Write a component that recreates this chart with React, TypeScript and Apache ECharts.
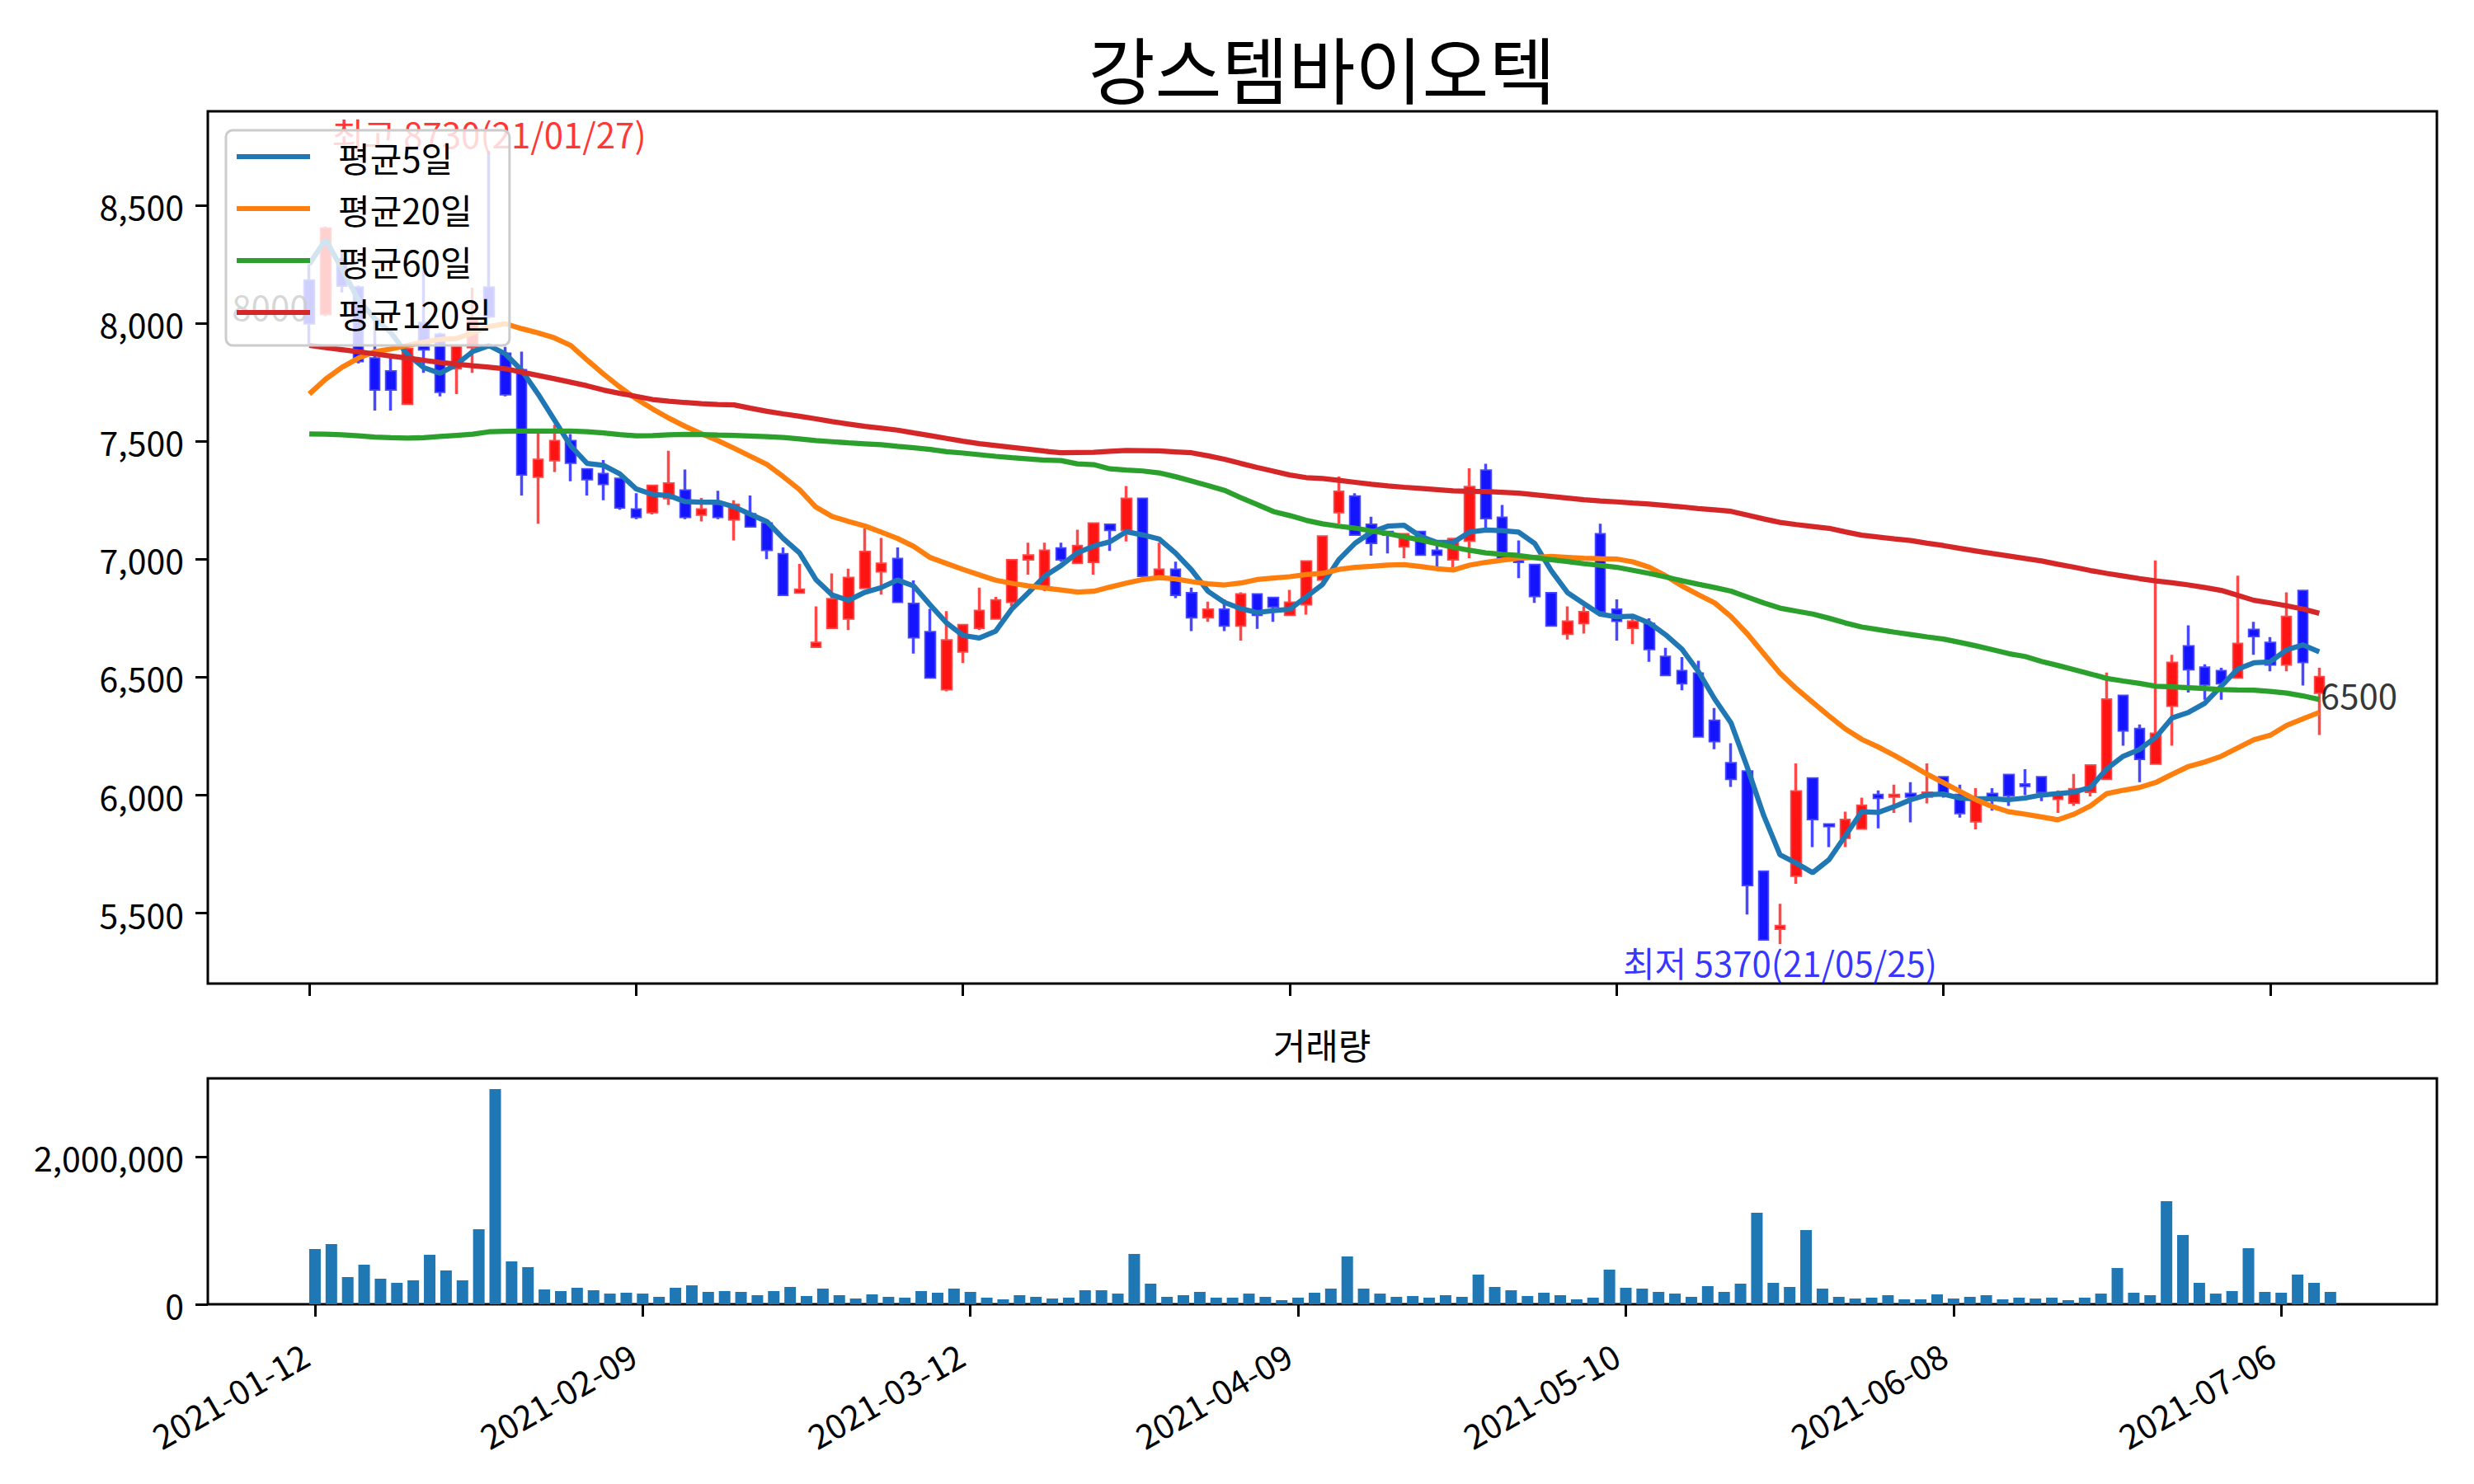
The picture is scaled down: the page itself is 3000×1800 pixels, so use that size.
import React, { useEffect, useRef } from 'react';
import * as echarts from 'echarts';

// ---- data ----
const opens = [8180,8040,8270,8150,7850,7795,7660,8000,7950,7810,7900,8150,7870,7800,7350,7420,7500,7380,7360,7340,7210,7200,7260,7290,7190,7230,7170,7190,7150,7020,6860,6630,6710,6750,6880,6950,7000,6810,6690,6450,6610,6710,6750,6820,7000,6890,7045,6985,6990,7145,7125,7255,6930,6955,6855,6755,6785,6720,6850,6835,6765,6810,6915,7200,7265,7145,7115,7055,7115,7035,7000,7080,7375,7175,7000,6975,6855,6685,6730,7105,6785,6710,6725,6585,6525,6515,6315,6135,6100,5675,5435,5660,6070,5875,5820,5860,6000,5995,6005,5995,6075,6000,5890,6005,6085,6045,6075,5985,5970,6015,6070,6420,6280,6135,6380,6630,6540,6525,6500,6700,6645,6555,6865,6435];
const closes = [8000,8400,8160,7840,7720,7720,7890,7890,7710,7900,8010,8030,7700,7360,7420,7500,7410,7340,7320,7220,7180,7310,7320,7180,7210,7180,7230,7140,7040,6850,6870,6645,6830,6920,7030,6980,6820,6670,6500,6655,6720,6780,6825,6995,7015,7035,7000,7055,7150,7125,7255,6930,6955,6850,6755,6785,6720,6850,6765,6800,6815,6990,7095,7285,7105,7070,7105,7105,7020,7020,7085,7305,7175,7005,6990,6845,6720,6735,6775,6780,6740,6735,6620,6510,6475,6250,6230,6070,5620,5390,5445,6015,5900,5870,5895,5955,5990,6000,5995,6010,6010,5925,5980,5995,6000,6040,6015,6000,6025,6125,6405,6275,6155,6260,6560,6535,6470,6475,6640,6675,6555,6755,6565,6500];
const highs = [8250,8410,8300,8160,8030,7870,7890,8240,7960,7900,8150,8730,7900,7880,7550,7570,7530,7380,7420,7340,7280,7310,7460,7380,7260,7290,7250,7270,7150,7050,6980,6800,6940,6960,7130,7090,7050,6910,6790,6780,6720,6880,6840,7000,7070,7070,7070,7125,7150,7150,7310,7260,7070,6990,6880,6820,6830,6860,6850,6840,6870,6995,7100,7350,7280,7180,7120,7105,7115,7070,7090,7385,7405,7230,7080,6980,6855,6800,6800,7150,6830,6760,6750,6625,6585,6570,6370,6220,6100,5680,5540,6135,6070,5875,5930,5990,6020,6045,6055,6135,6075,6045,6030,6030,6085,6110,6080,6020,6090,6130,6520,6420,6300,6995,6595,6720,6555,6540,6930,6735,6670,6860,6870,6540];
const lows = [7910,8030,8130,7830,7630,7630,7660,7790,7690,7700,7790,8020,7690,7270,7150,7370,7330,7270,7250,7210,7170,7190,7230,7170,7160,7170,7080,7140,7000,6850,6860,6625,6710,6700,6880,6850,6820,6600,6500,6440,6560,6700,6745,6800,6935,6865,6990,6985,6935,7035,7075,6930,6930,6835,6695,6735,6695,6655,6705,6735,6760,6765,6910,7150,7105,7015,7025,7005,7015,6955,6965,7005,7125,7000,6920,6815,6720,6660,6685,6780,6655,6640,6565,6505,6445,6250,6195,6035,5495,5385,5370,5625,5780,5780,5780,5860,5860,5925,5885,5965,5990,5905,5855,5935,5955,6000,5975,5925,5955,5995,6070,6210,6055,6130,6210,6435,6405,6405,6495,6595,6525,6525,6465,6255];
const volumes = [750000,817000,369000,537000,347000,291000,325000,672000,459000,325000,1018000,2921000,582000,504000,201000,179000,224000,190000,145000,157000,145000,101000,224000,257000,168000,179000,168000,123000,179000,235000,112000,213000,123000,78000,134000,101000,90000,179000,157000,213000,168000,90000,67000,123000,101000,78000,90000,190000,190000,145000,683000,280000,101000,123000,168000,90000,90000,145000,101000,56000,90000,157000,213000,649000,213000,145000,101000,112000,90000,123000,101000,403000,235000,190000,112000,157000,123000,67000,90000,470000,224000,213000,168000,145000,101000,246000,168000,280000,1242000,291000,235000,1007000,213000,101000,78000,90000,123000,67000,67000,134000,78000,101000,123000,67000,90000,78000,90000,56000,90000,145000,492000,157000,123000,1399000,940000,291000,145000,179000,761000,168000,157000,403000,291000,168000];
const ma5 = [8250,8355,8230,8100,8020,7960,7868,7812,7788,7825,7880,7905,7870,7800,7700,7590,7480,7406,7398,7362,7298,7275,7270,7244,7242,7242,7222,7190,7160,7088,7027,6914,6848,6826,6860,6880,6912,6886,6806,6730,6677,6666,6695,6790,6858,6928,6973,7027,7056,7074,7117,7103,7086,7027,6954,6864,6817,6791,6774,6782,6788,6840,6893,6998,7068,7115,7140,7144,7097,7071,7071,7115,7124,7121,7115,7066,6952,6858,6812,6767,6756,6759,6730,6680,6619,6525,6408,6307,6118,5915,5748,5712,5672,5727,5828,5930,5927,5952,5981,6002,6005,5988,5985,5985,5981,5988,6001,6007,6013,6033,6112,6165,6194,6246,6328,6351,6390,6462,6534,6561,6565,6616,6637,6608];
const ma20 = [7700,7763,7813,7852,7879,7891,7906,7920,7932,7935,7959,7986,7998,7977,7959,7938,7906,7844,7785,7730,7680,7637,7598,7563,7532,7503,7470,7436,7402,7350,7295,7221,7181,7160,7141,7115,7088,7054,7007,6982,6957,6934,6911,6898,6887,6878,6870,6861,6864,6882,6899,6914,6922,6917,6905,6896,6891,6899,6914,6920,6926,6935,6940,6957,6966,6970,6975,6977,6969,6960,6954,6975,6987,6996,7004,7008,7012,7008,7004,7002,7001,6989,6966,6930,6887,6850,6815,6757,6684,6600,6517,6452,6394,6336,6281,6237,6205,6169,6130,6089,6053,6017,5981,5952,5930,5920,5908,5896,5920,5955,6007,6021,6033,6054,6089,6122,6141,6165,6200,6235,6254,6296,6324,6351];
const ma60 = [7531,7530,7527,7523,7518,7515,7513,7515,7520,7525,7530,7540,7542,7543,7543,7543,7543,7540,7535,7528,7523,7524,7527,7529,7528,7526,7525,7522,7519,7516,7510,7503,7498,7493,7489,7485,7478,7472,7465,7456,7450,7443,7436,7430,7425,7420,7418,7404,7401,7383,7378,7374,7366,7350,7331,7312,7292,7261,7232,7202,7185,7165,7150,7140,7132,7120,7109,7095,7082,7066,7051,7038,7027,7021,7016,7007,6998,6990,6981,6974,6966,6953,6940,6925,6909,6894,6880,6865,6840,6815,6793,6780,6768,6750,6730,6713,6702,6691,6681,6671,6662,6648,6633,6617,6600,6588,6567,6550,6532,6514,6495,6484,6474,6462,6459,6456,6452,6448,6446,6445,6440,6433,6421,6406];
const ma120 = [7906,7897,7888,7879,7870,7861,7852,7843,7834,7827,7820,7814,7807,7793,7779,7765,7750,7735,7717,7703,7690,7677,7670,7664,7659,7656,7654,7640,7627,7616,7606,7595,7583,7573,7563,7555,7547,7535,7524,7512,7500,7490,7482,7474,7466,7458,7451,7452,7453,7457,7461,7460,7459,7455,7451,7438,7424,7406,7389,7373,7357,7346,7342,7334,7326,7318,7311,7305,7300,7295,7290,7288,7287,7284,7280,7273,7266,7259,7252,7247,7243,7238,7234,7228,7222,7215,7209,7203,7187,7171,7156,7147,7139,7131,7116,7102,7094,7086,7079,7068,7058,7046,7035,7024,7014,7003,6993,6979,6966,6952,6940,6929,6918,6908,6900,6891,6880,6868,6847,6826,6815,6803,6789,6771];

const maNames = ['평균5일', '평균20일', '평균60일', '평균120일'];
const maColors = ['#1f77b4', '#ff7f0e', '#2ca02c', '#d62728'];
const maSeries = [ma5, ma20, ma60, ma120];

const xTickIndex = [0, 20, 40, 60, 80, 100, 120];
const xTickLabels = ['2021-01-12', '2021-02-09', '2021-03-12', '2021-04-09', '2021-05-10', '2021-06-08', '2021-07-06'];
const priceTicks = [5500, 6000, 6500, 7000, 7500, 8000, 8500];
const volumeTicks = [0, 2000000];

const noteIndex = [11, 90, 0, 123];
const noteValue = [8730, 5370, 8000, 6500];
const noteText = ['최고 8730(21/01/27)', '최저 5370(21/05/25)', '8000', '6500'];
const noteColor = ['#ff0000', '#0000ff', '#000000', '#000000'];

const FONT = '"Noto Sans CJK KR", "Noto Sans", sans-serif';
const fmt = (v: number) => Number(v).toLocaleString('en-US');

function buildOption() {
  const tickStyle = { show: true, length: 15, inside: false, lineStyle: { color: '#000', width: 3 } };
  const noLine = { show: false, onZero: false };
  const labelPos: any[] = [
    { position: 'top', distance: 0 },
    { position: 'bottom', distance: 0 },
    { position: [0, 0], align: 'right', verticalAlign: 'bottom' },
    { position: [2, 0], align: 'left', verticalAlign: 'top' },
  ];
  return {
    animation: false,
    backgroundColor: '#ffffff',
    textStyle: { fontFamily: FONT },
    graphic: [
      { type: 'text', x: 1603, y: 80, style: { text: '강스템바이오텍', font: `88px ${FONT}`, fill: '#000', align: 'center', verticalAlign: 'middle' } },
      { type: 'text', x: 1603, y: 1266, style: { text: '거래량', font: `43px ${FONT}`, fill: '#000', align: 'center', verticalAlign: 'middle' } },
    ],
    legend: {
      data: maNames.map((n) => ({ name: n, icon: 'rect' })),
      orient: 'vertical',
      left: 274,
      top: 158,
      itemWidth: 89,
      itemHeight: 6,
      itemGap: 15,
      padding: [8, 22, 16, 13],
      backgroundColor: 'rgba(255,255,255,0.8)',
      borderColor: '#cccccc',
      borderWidth: 3,
      borderRadius: 8,
      textStyle: { fontSize: 42, color: '#000', fontFamily: FONT, lineHeight: 48, padding: [0, 0, 0, 29] },
    },
    grid: [
      { left: 252, top: 135, width: 2703, height: 1058, show: true, borderColor: '#000', borderWidth: 3, backgroundColor: 'transparent' },
      { left: 252, top: 1308, width: 2703, height: 274, show: true, borderColor: '#000', borderWidth: 3, backgroundColor: 'transparent' },
    ],
    xAxis: [
      {
        type: 'value', gridIndex: 0, min: -6.21, max: 130.2,
        axisLine: noLine,
        axisTick: { ...tickStyle, customValues: xTickIndex },
        axisLabel: { show: false },
        splitLine: { show: false },
      },
      {
        type: 'value', gridIndex: 1, min: -6.54, max: 129.5,
        axisLine: noLine,
        axisTick: { ...tickStyle, customValues: xTickIndex },
        axisLabel: {
          customValues: xTickIndex,
          formatter: (v: number) => xTickLabels[xTickIndex.indexOf(Math.round(v))] ?? '',
          rotate: 30, fontSize: 41, color: '#000', margin: 50, padding: [0, 14, 0, 0], fontFamily: FONT,
        },
        splitLine: { show: false },
      },
    ],
    yAxis: [
      {
        type: 'value', gridIndex: 0, min: 5202, max: 8898,
        axisLine: noLine,
        axisTick: { ...tickStyle, customValues: priceTicks },
        axisLabel: { customValues: priceTicks, formatter: fmt, fontSize: 41, color: '#000', margin: 29, fontFamily: FONT },
        splitLine: { show: false },
      },
      {
        type: 'value', gridIndex: 1, min: 0, max: 3066000,
        axisLine: noLine,
        axisTick: { ...tickStyle, customValues: volumeTicks },
        axisLabel: { customValues: volumeTicks, formatter: fmt, fontSize: 41, color: '#000', margin: 29, fontFamily: FONT },
        splitLine: { show: false },
      },
    ],
    series: [
      {
        type: 'candlestick', name: '가격', xAxisIndex: 0, yAxisIndex: 0,
        data: opens.map((o, i) => [i, o, closes[i], lows[i], highs[i]]),
        encode: { x: 0, y: [1, 2, 3, 4] },
        barWidth: 11,
        itemStyle: {
          color: 'rgba(255,0,0,0.92)', color0: 'rgba(0,0,255,0.92)',
          borderColor: 'rgba(255,20,20,0.78)', borderColor0: 'rgba(20,20,255,0.78)',
          borderWidth: 3.5,
        },
        z: 2,
      },
      ...maSeries.map((arr, k) => ({
        type: 'line', name: maNames[k], xAxisIndex: 0, yAxisIndex: 0,
        data: arr.map((v, i) => [i, v]),
        showSymbol: false, symbol: 'none',
        lineStyle: { width: 6.25, color: maColors[k] },
        itemStyle: { color: maColors[k] },
        z: 3,
      })),
      {
        type: 'scatter', name: 'notes', xAxisIndex: 0, yAxisIndex: 0,
        symbolSize: 1, itemStyle: { color: 'rgba(0,0,0,0)' },
        data: noteIndex.map((x, k) => ({
          value: [x, noteValue[k]],
          label: { show: true, formatter: noteText[k], color: noteColor[k], fontSize: 42, fontFamily: FONT, ...labelPos[k] },
        })),
        z: 3,
      },
      {
        type: 'bar', name: '거래량', xAxisIndex: 1, yAxisIndex: 1,
        data: volumes.map((v, i) => [i, v]),
        barWidth: 14,
        itemStyle: { color: '#1f77b4' },
      },
    ],
  };
}

export default function App() {
  const ref = useRef<HTMLDivElement>(null);
  useEffect(() => {
    const chart = echarts.init(ref.current as HTMLDivElement, null, { renderer: 'svg' });
    chart.setOption(buildOption() as any);
    return () => chart.dispose();
  }, []);
  return <div ref={ref} style={{ position: 'fixed', left: 0, top: 0, width: 3000, height: 1800, background: '#fff' }} />;
}
